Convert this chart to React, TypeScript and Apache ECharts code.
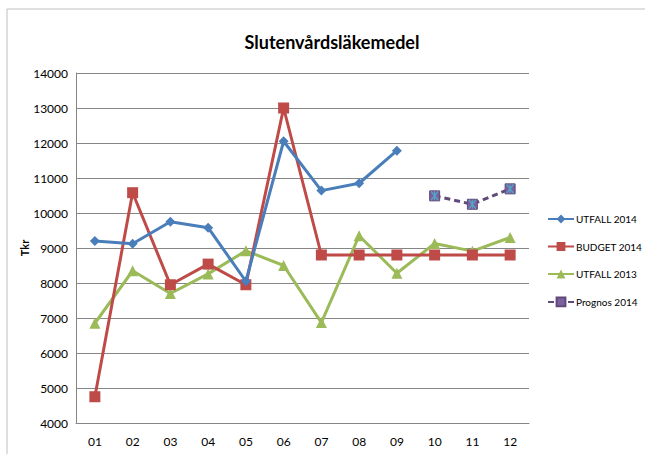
import React, { useEffect, useRef } from "react";
import * as echarts from "echarts";

const months = ["01", "02", "03", "04", "05", "06", "07", "08", "09", "10", "11", "12"];
const utfall2014 = [9200, 9120, 9750, 9580, 8050, 12050, 10640, 10850, 11780, null, null, null];
const budget2014 = [4750, 10580, 7950, 8540, 7950, 13000, 8800, 8800, 8800, 8800, 8800, 8800];
const utfall2013 = [6850, 8350, 7700, 8260, 8920, 8500, 6870, 9350, 8280, 9130, 8910, 9300];
const prognos2014 = [null, null, null, null, null, null, null, null, null, 10490, 10250, 10690];

const FONT = "Lato, 'Open Sans', sans-serif";

export default function App() {
  const ref = useRef<HTMLDivElement>(null);
  useEffect(() => {
    document.body.style.margin = "0";
    const chart = echarts.init(ref.current!, undefined, { renderer: "svg" });
    chart.setOption({
      animation: false,
      backgroundColor: "#ffffff",
      textStyle: { fontFamily: FONT },
      title: {
        text: "Slutenvårdsläkemedel",
        left: 327,
        textAlign: "center",
        top: 28,
        textStyle: { fontFamily: FONT, fontSize: 18, fontWeight: "bold", color: "#000" },
      },
      graphic: [
        {
          type: "rect",
          shape: { x: 7, y: 9, width: 700, height: 500 },
          style: { fill: "none", stroke: "#bfbfbf", lineWidth: 1 },
          silent: true,
        },
      ],
      legend: {
        orient: "vertical",
        left: 542,
        top: 209,
        itemWidth: 26,
        itemHeight: 11,
        itemGap: 17.5,
        data: ["UTFALL 2014", "BUDGET 2014", "UTFALL 2013", "Prognos 2014"],
        textStyle: { fontFamily: FONT, fontSize: 10, color: "#000", padding: [0, 0, 0, -3] },
      },
      grid: { left: 76, right: 116, top: 73, bottom: 31 },
      xAxis: {
        type: "category",
        data: months,
        boundaryGap: true,
        axisLine: { lineStyle: { color: "#868686", width: 1 } },
        axisTick: { show: false },
        axisLabel: { color: "#000", fontFamily: FONT, fontSize: 12, margin: 12 },
      },
      yAxis: {
        type: "value",
        min: 4000,
        max: 14000,
        interval: 1000,
        name: "Tkr",
        nameLocation: "middle",
        nameGap: 46,
        nameMoveOverlap: false,
        nameTextStyle: { fontFamily: FONT, fontSize: 11, fontWeight: "bold", color: "#000" },
        axisLine: { show: true, lineStyle: { color: "#868686", width: 1 } },
        axisTick: { show: false },
        splitLine: { lineStyle: { color: "#868686", width: 1 } },
        axisLabel: {
          color: "#000",
          fontFamily: FONT,
          fontSize: 12,
          margin: 8,
          formatter: (v: number) => String(v),
        },
      },
      series: [
        {
          name: "UTFALL 2014",
          type: "line",
          data: utfall2014,
          color: "#4A7EBB",
          lineStyle: { width: 3 },
          symbol: "diamond",
          symbolSize: 10,
          itemStyle: { color: "#4A7EBB" },
          z: 4,
        },
        {
          name: "BUDGET 2014",
          type: "line",
          data: budget2014,
          color: "#BE4B48",
          lineStyle: { width: 3 },
          symbol: "rect",
          symbolSize: 11,
          itemStyle: { color: "#BE4B48" },
          z: 3,
        },
        {
          name: "UTFALL 2013",
          type: "line",
          data: utfall2013,
          color: "#9BBB59",
          lineStyle: { width: 3 },
          symbol: "triangle",
          symbolSize: 11,
          itemStyle: { color: "#9BBB59" },
          z: 2,
        },
        {
          name: "Prognos 2014",
          type: "line",
          data: prognos2014,
          color: "#604A7B",
          lineStyle: { width: 3, type: [6, 4], color: "#604A7B" },
          symbol: "rect",
          symbolSize: 10,
          itemStyle: { color: "#7D60A0", borderColor: "#604A7B", borderWidth: 1 },
          z: 5,
        },
        {
          name: "Prognos 2014 X",
          type: "line",
          data: prognos2014,
          lineStyle: { opacity: 0 },
          symbol: "path://M0,0L10,10M10,0L0,10M5,0L5,10",
          symbolSize: [7, 9],
          showSymbol: true,
          itemStyle: { color: "none", borderColor: "#4BACC6", borderWidth: 1.2 },
          z: 6,
          silent: true,
        },
      ],
    });
    return () => chart.dispose();
  }, []);
  return <div ref={ref} style={{ width: 645, height: 454 }} />;
}
